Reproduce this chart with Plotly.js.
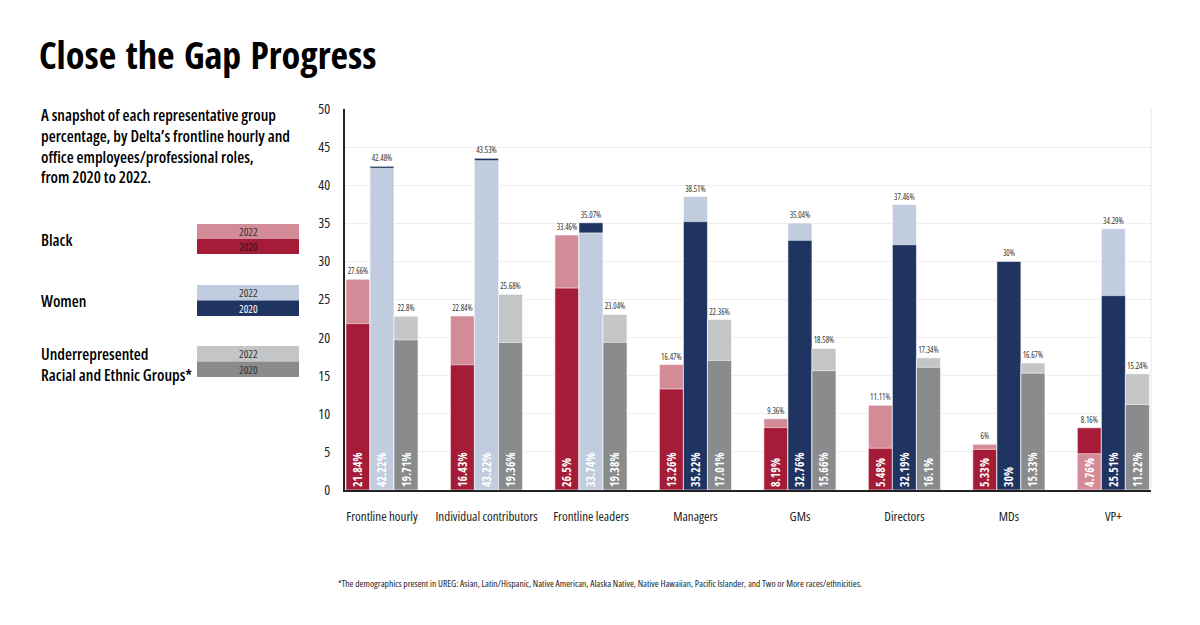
<!DOCTYPE html>
<html>
<head>
<meta charset="utf-8">
<script src="https://cdn.plot.ly/plotly-3.0.1.min.js"></script>
<style>html,body{margin:0;padding:0;background:#fff;}#chart{width:1200px;height:625px;} text{font-stretch:condensed !important;}</style>
</head>
<body>
<div id="chart"></div>
<script>
// ---- Data ----
var categories = ["Frontline hourly","Individual contributors","Frontline leaders","Managers","GMs","Directors","MDs","VP+"];
var black2020 = [21.84, 16.43, 26.5, 13.26, 8.19, 5.48, 5.33, 8.16];
var black2022 = [27.66, 22.84, 33.46, 16.47, 9.36, 11.11, 6, 4.76];
var women2020 = [42.48, 43.53, 35.07, 35.22, 32.76, 32.19, 30, 25.51];
var women2022 = [42.22, 43.22, 33.74, 38.51, 35.04, 37.46, 30, 34.29];
var ureg2020 = [19.71, 19.36, 19.38, 17.01, 15.66, 16.1, 15.33, 11.22];
var ureg2022 = [22.8, 25.68, 23.04, 22.36, 18.58, 17.34, 16.67, 15.24];
var yTicks = [0,5,10,15,20,25,30,35,40,45,50];

// ---- Styles ----
var FONT = "Open Sans, Roboto Condensed, DejaVu Sans Condensed, sans-serif";
var FONTB = "Open Sans Condensed, Open Sans, Roboto Condensed, sans-serif";
var groups = [
  {name:"Black", v20:black2020, v22:black2022, c20:"#A41C37", c22:"#D48B98", off:-0.345},
  {name:"Women", v20:women2020, v22:women2022, c20:"#1F3461", c22:"#C2CCDF", off:-0.115},
  {name:"UREG",  v20:ureg2020,  v22:ureg2022,  c20:"#8A8B8D", c22:"#C4C5C7", off:0.115}
];
var BW = 0.23;
function pct(v){ return String(v) + "%"; }

var traces = [];
groups.forEach(function(g){
  var backY=[], backC=[], frontY=[], frontC=[];
  for (var i=0;i<categories.length;i++){
    var a=g.v20[i], b=g.v22[i];
    if (b >= a){ backY.push(b); backC.push(g.c22); frontY.push(a); frontC.push(g.c20); }
    else { backY.push(a); backC.push(g.c20); frontY.push(b); frontC.push(g.c22); }
  }
  traces.push({
    type:"bar", x:categories, y:backY, width:BW, offset:g.off,
    marker:{color:backC, line:{color:"#ffffff", width:0.6}},
    text:backY.map(pct), textposition:"outside", textangle:0,
    textfont:{family:FONT, size:8, color:"#333"}, constraintext:"none",
    cliponaxis:false, hoverinfo:"skip", showlegend:false
  });
  traces.push({
    type:"bar", x:categories, y:frontY, width:BW, offset:g.off,
    marker:{color:frontC, line:{color:"#ffffff", width:0.6}},
    text:frontY.map(pct), textposition:"inside", insidetextanchor:"start", textangle:-90,
    textfont:{family:FONTB, size:12, color:"#ffffff", weight:"bold"}, constraintext:"none",
    hoverinfo:"skip", showlegend:false
  });
});

// pixel helpers for paper coords
var L=345, R=1151, T=109, B=490;
function px(x){ return (x-L)/(R-L); }
function py(y){ return (B-y)/(B-T); }

var annotations = [];
var shapes = [];
function note(text,x,y,size,opts){
  opts = opts||{};
  annotations.push({text:text, xref:"paper", yref:"paper", x:px(x), y:py(y),
    xanchor:opts.xanchor||"left", yanchor:"middle", align:"left", showarrow:false,
    font:{family:opts.family||FONT, size:size, color:opts.color||"#111", weight:opts.weight||"normal"}});
}
note("Close the Gap Progress", 37, 54, 38, {weight:"bold", color:"#000", family:FONTB});
note("A snapshot of each representative group<br>percentage, by Delta’s frontline hourly and<br>office employees/professional roles,<br>from 2020 to 2022.", 39, 146, 16, {weight:600, color:"#000"});

note("Black", 39, 240, 16, {weight:600, color:"#000"});
note("Women", 39, 301, 16, {weight:600, color:"#000"});
note("Underrepresented<br>Racial and Ethnic Groups*", 39, 364, 16, {weight:600, color:"#000"});

var sw = [
  {y0:224, y1:239, y2:254, g:groups[0], t20:"#3a0f18"},
  {y0:285, y1:300.5, y2:316, g:groups[1], t20:"#ffffff"},
  {y0:346, y1:361.5, y2:377, g:groups[2], t20:"#333333"}
];
sw.forEach(function(s){
  shapes.push({type:"rect", xref:"paper", yref:"paper", x0:px(197), x1:px(299), y0:py(s.y1), y1:py(s.y0), fillcolor:s.g.c22, line:{width:0}});
  shapes.push({type:"rect", xref:"paper", yref:"paper", x0:px(197), x1:px(299), y0:py(s.y2), y1:py(s.y1), fillcolor:s.g.c20, line:{width:0}});
  note("2022", 248, (s.y0+s.y1)/2, 11, {xanchor:"center", color:"#333"});
  note("2020", 248, (s.y1+s.y2)/2, 11, {xanchor:"center", color:s.t20});
});
shapes.push({type:"line", xref:"paper", yref:"paper", x0:1, x1:1, y0:0, y1:1, line:{color:"#e6e6e6", width:1}});

note("*The demographics present in UREG: Asian, Latin/Hispanic, Native American, Alaska Native, Native Hawaiian, Pacific Islander, and Two or More races/ethnicities.", 336, 583, 9.5, {color:"#222"});

var layout = {
  width:1200, height:625,
  margin:{l:L, r:1200-R, t:T, b:625-B, pad:0},
  paper_bgcolor:"#ffffff", plot_bgcolor:"#ffffff",
  barmode:"overlay",
  font:{family:FONT, color:"#222"},
  xaxis:{type:"category", range:[-0.354, 7.36], showgrid:false, zeroline:false,
    showline:true, linecolor:"#222", linewidth:2, tickangle:0,
    ticks:"", ticklabelstandoff:13, tickfont:{family:FONT, size:13, color:"#222"}},
  yaxis:{range:[0,50], tickvals:yTicks, ticktext:yTicks.map(String), showgrid:true, gridcolor:"#eeeeee",
    zeroline:false, showline:true, linecolor:"#222", linewidth:2, ticks:"",
    ticklabelstandoff:10, tickfont:{family:FONT, size:14, color:"#222"}},
  annotations:annotations, shapes:shapes
};
Plotly.newPlot("chart", traces, layout, {displayModeBar:false, staticPlot:true});
</script>
</body>
</html>
